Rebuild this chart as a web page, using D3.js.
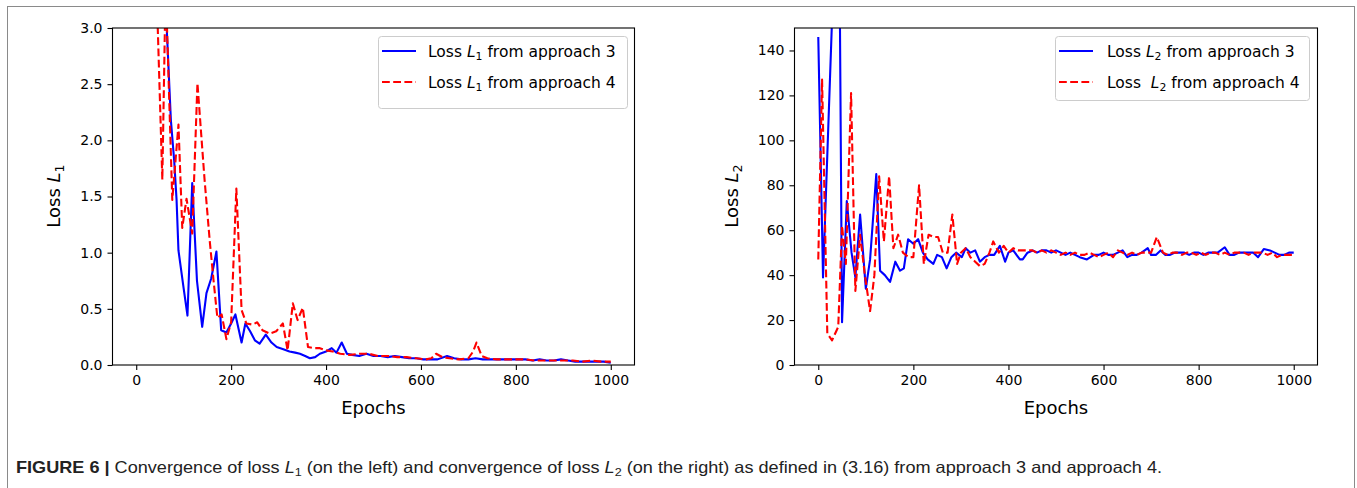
<!DOCTYPE html>
<html>
<head>
<meta charset="utf-8">
<script src="https://cdn.jsdelivr.net/npm/d3@7"></script>
<style>
  body { margin: 0; background: #fff; }
  svg { display: block; }
  .plot text { font-family: "DejaVu Sans", sans-serif; fill: #000; }
  .caption { font-family: "Liberation Sans Narrow", "Liberation Sans", Arial, sans-serif; fill: #222; }
</style>
</head>
<body>
<svg id="fig" width="1357" height="488"></svg>
<script>
// ---- Loss L1, approach 3 (solid blue) ----
const l1EpochsA3 = [0, 20, 40, 60, 73, 80, 85, 89, 100, 108, 118, 128, 139, 148, 158, 169, 179, 190, 200, 209,
  222, 230, 240, 250, 260, 273, 285, 296, 310, 323, 335, 345, 356, 366, 377, 387, 400, 412, 422, 433,
  444, 455, 470, 485, 500, 515, 530, 545, 560, 575, 590, 605, 620, 635, 655, 670, 685, 700, 715, 730,
  745, 760, 775, 790, 805, 820, 835, 850, 865, 880, 895, 910, 925, 940, 955, 970, 985, 1000];
const l1LossA3 = [9.0, 6.5, 4.6, 3.4, 2.18, 1.82, 1.47, 1.02, 0.68, 0.44, 1.62, 0.75, 0.34, 0.64, 0.77, 1.01, 0.31, 0.29, 0.37, 0.45,
  0.20, 0.37, 0.30, 0.22, 0.19, 0.27, 0.20, 0.16, 0.14, 0.12, 0.11, 0.10, 0.08, 0.06, 0.07, 0.10, 0.12, 0.15, 0.11, 0.20,
  0.10, 0.09, 0.08, 0.10, 0.08, 0.08, 0.07, 0.08, 0.07, 0.06, 0.06, 0.05, 0.05, 0.05, 0.08, 0.06, 0.05, 0.05, 0.06, 0.05,
  0.05, 0.05, 0.05, 0.05, 0.05, 0.05, 0.04, 0.05, 0.04, 0.04, 0.05, 0.04, 0.03, 0.03, 0.03, 0.03, 0.03, 0.02];

// ---- Loss L1, approach 4 (dashed red) ----
const l1EpochsA4 = [0, 20, 40, 45, 55, 62, 76, 89, 97, 106, 118, 129, 137, 144, 155, 163, 171, 180, 190, 200,
  211, 222, 232, 245, 255, 266, 281, 295, 309, 319, 330, 340, 351, 362, 375, 387, 400, 414, 430, 450,
  470, 490, 510, 530, 550, 570, 590, 610, 622, 632, 645, 660, 680, 700, 710, 717, 728, 740, 760, 780,
  800, 820, 840, 860, 880, 900, 920, 940, 960, 980, 1000];
const l1LossA4 = [7.0, 5.0, 3.6, 3.05, 1.65, 3.4, 1.47, 2.14, 1.22, 1.48, 1.17, 2.51, 2.05, 1.65, 1.10, 0.75, 0.42, 0.45, 0.23, 0.38,
  1.57, 0.49, 0.37, 0.36, 0.38, 0.31, 0.28, 0.30, 0.37, 0.13, 0.55, 0.40, 0.51, 0.16, 0.15, 0.15, 0.13, 0.12, 0.10, 0.09,
  0.10, 0.10, 0.08, 0.08, 0.07, 0.07, 0.06, 0.05, 0.06, 0.10, 0.07, 0.06, 0.05, 0.06, 0.12, 0.20, 0.08, 0.06, 0.05, 0.05,
  0.05, 0.05, 0.04, 0.04, 0.04, 0.04, 0.04, 0.03, 0.04, 0.03, 0.03];

// ---- Loss L2, approach 3 (solid blue) ----
const l2EpochsA3 = [0, 10, 30, 45, 50, 60, 70, 78, 88, 100, 109, 122, 130, 140, 151, 162, 172, 180, 189, 200,
  210, 220, 230, 242, 250, 260, 270, 280, 290, 302, 310, 320, 330, 340, 350, 360, 370, 382, 393, 400,
  410, 424, 430, 440, 451, 460, 470, 480, 490, 500, 510, 520, 530, 540, 550, 565, 580, 590, 600, 610,
  620, 630, 640, 650, 660, 670, 680, 693, 700, 710, 720, 730, 740, 750, 760, 770, 780, 790, 800, 810,
  820, 830, 840, 855, 865, 875, 885, 895, 905, 915, 925, 937, 950, 960, 970, 980, 990, 1000];
const l2LossA3 = [146, 39, 160, 170, 19, 73, 50, 39, 67, 34, 47, 85, 42, 40, 37, 46, 42, 43, 56, 54,
  56, 50, 47, 45, 49, 48, 43, 48, 50, 48, 52, 50, 51, 46, 48, 49, 49, 53, 46, 50,
  51, 47, 47, 50, 51, 50, 51, 51, 50, 51, 50, 49, 50, 49, 48, 47, 49, 49, 50, 49,
  49, 50, 51, 48, 49, 49, 50, 52, 49, 49, 51, 49, 49, 50, 50, 50, 49, 50, 50, 49,
  50, 50, 50, 52.4, 49, 49, 50, 50, 50, 50, 48, 51.6, 51, 50, 49, 49, 50, 50];

// ---- Loss L2, approach 4 (dashed red) ----
const l2EpochsA4 = [0, 8, 19, 29, 42, 50, 58, 69, 78, 88, 98, 109, 118, 128, 138, 149, 158, 168, 178, 190,
  200, 212, 222, 232, 242, 252, 262, 272, 282, 292, 300, 310, 320, 330, 340, 350, 360, 368, 380, 390,
  400, 410, 420, 430, 440, 450, 460, 470, 480, 490, 500, 510, 520, 530, 540, 550, 560, 570, 580, 590,
  600, 610, 620, 630, 640, 650, 660, 670, 680, 690, 700, 712, 725, 735, 745, 755, 765, 775, 785, 795,
  805, 815, 825, 835, 845, 855, 865, 875, 885, 895, 905, 915, 925, 935, 945, 955, 965, 975, 985, 1000];
const l2LossA4 = [47, 127, 14, 11, 17, 62, 45, 121, 33, 58, 40, 24, 40, 84, 55, 84, 52, 58, 50, 48,
  48, 80, 45, 58, 57, 57, 50, 50, 67, 45, 50, 52, 48, 46, 44, 45, 50, 55, 50, 53,
  50, 52, 51, 51, 51, 51, 50, 51, 50, 51, 50, 49, 50, 49, 50, 49, 49, 50, 49, 48,
  49, 50, 48, 51, 50, 49, 50, 49, 50, 50, 50, 57, 50, 49, 50, 50, 49, 50, 50, 49,
  50, 49, 50, 50, 49, 50, 49, 50, 50, 50, 49, 50, 50, 50, 49, 50, 48, 49, 49, 49];

// ---- Axis ticks ----
const xTicks = [0, 200, 400, 600, 800, 1000];
const l1Ticks = [0, 0.5, 1.0, 1.5, 2.0, 2.5, 3.0];
const l2Ticks = [0, 20, 40, 60, 80, 100, 120, 140];

const svg = d3.select("#fig");
svg.append("rect").attr("width", 1357).attr("height", 488).attr("fill", "#fff");

// Figure frame
svg.append("rect")
  .attr("x", 7.5).attr("y", 6.5).attr("width", 1347).attr("height", 500)
  .attr("fill", "none").attr("stroke", "#8a8a8a").attr("stroke-width", 1);

const BLUE = "#0000ff", RED = "#ff0000";

// Writes "Loss L_n ..." with an italic L and a small subscript digit
function lossLabel(sel, sub, before, after, size) {
  sel.append("tspan").text(before);
  sel.append("tspan").style("font-style", "italic").text("L");
  sel.append("tspan").style("font-size", (size * 0.7) + "px").attr("dy", size * 0.22).text(sub);
  sel.append("tspan").attr("dy", -size * 0.22).text(after);
}

function drawPanel(cfg) {
  const x = d3.scaleLinear().domain([-50, 1050]).range([cfg.left, cfg.right]);
  const y = d3.scaleLinear().domain(cfg.yDomain).range([365, 28]);
  const g = svg.append("g").attr("class", "plot");

  const clipId = "clip" + cfg.sub;
  g.append("clipPath").attr("id", clipId)
    .append("rect").attr("x", cfg.left).attr("y", 28)
    .attr("width", cfg.right - cfg.left).attr("height", 337);

  const line = d3.line().x(d => x(d[0])).y(d => y(d[1]));
  const plot = g.append("g").attr("clip-path", `url(#${clipId})`);

  plot.append("path")
    .datum(d3.zip(cfg.eA3, cfg.vA3))
    .attr("d", line).attr("fill", "none")
    .attr("stroke", BLUE).attr("stroke-width", 2.1)
    .attr("stroke-linejoin", "round").attr("stroke-linecap", "butt");

  plot.append("path")
    .datum(d3.zip(cfg.eA4, cfg.vA4))
    .attr("d", line).attr("fill", "none")
    .attr("stroke", RED).attr("stroke-width", 2.1)
    .attr("stroke-dasharray", "7.8,3.4")
    .attr("stroke-linejoin", "round").attr("stroke-linecap", "butt");

  // Axes
  const xAxis = d3.axisBottom(x).tickValues(xTicks).tickSize(5).tickPadding(5).tickSizeOuter(0)
    .tickFormat(d3.format("d"));
  const gx = g.append("g").attr("transform", "translate(0,365)").call(xAxis);
  const yAxis = d3.axisLeft(y).tickValues(cfg.yTicks).tickSize(5).tickPadding(5).tickSizeOuter(0)
    .tickFormat(cfg.yFormat);
  const gy = g.append("g").attr("transform", `translate(${cfg.left},0)`).call(yAxis);
  [gx, gy].forEach(a => {
    a.select(".domain").remove();
    a.selectAll(".tick line").attr("stroke", "#000").attr("stroke-width", 1.1);
    a.selectAll(".tick text").style("font-size", "14px").style("fill", "#000");
  });

  // Spines
  g.append("rect")
    .attr("x", cfg.left).attr("y", 28)
    .attr("width", cfg.right - cfg.left).attr("height", 337)
    .attr("fill", "none").attr("stroke", "#000").attr("stroke-width", 1.1);

  // Axis titles
  g.append("text")
    .attr("x", (cfg.left + cfg.right) / 2).attr("y", 414)
    .attr("text-anchor", "middle").style("font-size", "18px").text("Epochs");
  const yl = g.append("text")
    .attr("transform", `translate(${cfg.ylabelX},196) rotate(-90)`)
    .attr("text-anchor", "middle").style("font-size", "18px");
  lossLabel(yl, cfg.sub, "Loss ", "", 18);

  // Legend
  const L = cfg.legend;
  g.append("rect")
    .attr("x", L.x).attr("y", L.y).attr("width", L.w).attr("height", L.h)
    .attr("rx", 3).attr("fill", "#fff").attr("fill-opacity", 0.8)
    .attr("stroke", "#cccccc").attr("stroke-width", 1);
  const rows = [
    { color: BLUE, dash: null, before: "Loss ", after: " from approach 3" },
    { color: RED, dash: "7.8,3.4", before: L.redBefore, after: " from approach 4" }
  ];
  rows.forEach((r, i) => {
    const ry = L.rowY[i];
    g.append("line")
      .attr("x1", L.lineX1).attr("x2", L.lineX1 + 34).attr("y1", ry).attr("y2", ry)
      .attr("stroke", r.color).attr("stroke-width", 2.1)
      .attr("stroke-dasharray", r.dash);
    const t = g.append("text")
      .attr("x", L.textX).attr("y", ry + 5.5)
      .style("font-size", "15.5px").style("white-space", "pre");
    lossLabel(t, cfg.sub, r.before, r.after, 15.5);
  });
}

drawPanel({
  sub: "1", left: 112.5, right: 634.5, yDomain: [0, 3], yTicks: l1Ticks,
  yFormat: d3.format(".1f"), ylabelX: 60,
  eA3: l1EpochsA3, vA3: l1LossA3, eA4: l1EpochsA4, vA4: l1LossA4,
  legend: { x: 378.5, y: 36.5, w: 249, h: 72, lineX1: 382, textX: 428, rowY: [51, 82], redBefore: "Loss " }
});

drawPanel({
  sub: "2", left: 794.5, right: 1317.5, yDomain: [0, 150], yTicks: l2Ticks,
  yFormat: d3.format("d"), ylabelX: 738,
  eA3: l2EpochsA3, vA3: l2LossA3, eA4: l2EpochsA4, vA4: l2LossA4,
  legend: { x: 1055.5, y: 36.5, w: 254, h: 64, lineX1: 1059, textX: 1107, rowY: [51, 82], redBefore: "Loss  " }
});

// Caption
const cap = svg.append("text").attr("class", "caption")
  .attr("x", 16).attr("y", 473)
  .style("font-size", "16.5px")
  .attr("textLength", 1146).attr("lengthAdjust", "spacingAndGlyphs");
cap.append("tspan").style("font-weight", "bold").text("FIGURE 6 | ");
cap.append("tspan").text("Convergence of loss ");
cap.append("tspan").style("font-style", "italic").text("L");
cap.append("tspan").style("font-size", "11.5px").attr("dy", 3).text("1");
cap.append("tspan").attr("dy", -3).text(" (on the left) and convergence of loss ");
cap.append("tspan").style("font-style", "italic").text("L");
cap.append("tspan").style("font-size", "11.5px").attr("dy", 3).text("2");
cap.append("tspan").attr("dy", -3).text(" (on the right) as defined in (3.16) from approach 3 and approach 4.");
</script>
</body>
</html>
